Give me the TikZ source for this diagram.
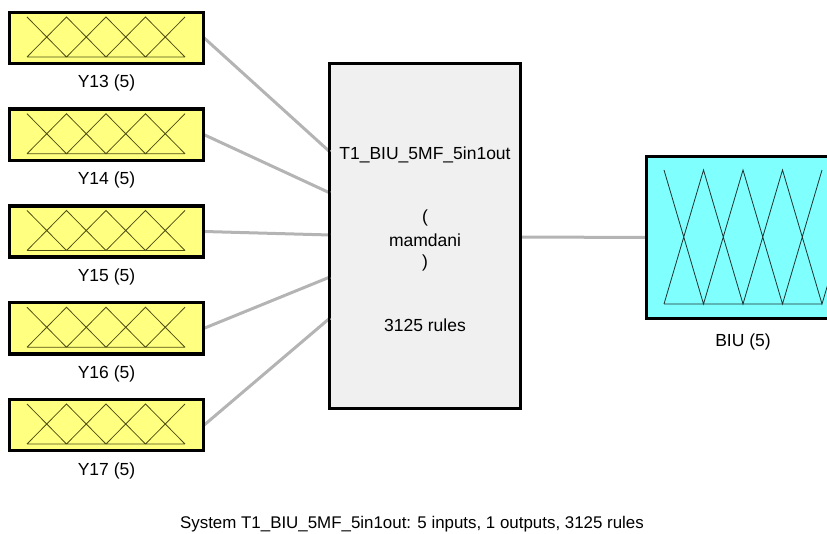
\documentclass[tikz,border=0pt]{standalone}
\usepackage{fontspec}
\setmainfont{Liberation Sans}
\definecolor{inyellow}{RGB}{255,255,128}
\definecolor{outcyan}{RGB}{128,255,255}
\definecolor{sysgray}{RGB}{240,240,240}
\definecolor{wiregray}{RGB}{180,180,180}
\definecolor{mfolive}{RGB}{80,80,20}
\definecolor{mfdark}{RGB}{30,50,50}
\tikzset{
  varbox/.style={draw=black, line width=2.4pt, rectangle, inner sep=0pt},
  inbox/.style={varbox, fill=inyellow, minimum width=193pt, minimum height=50pt},
  outbox/.style={varbox, fill=outcyan, minimum width=193pt, minimum height=161pt},
  sysbox/.style={draw=black, line width=2pt, fill=sysgray, rectangle, inner sep=0pt,
                 minimum width=190pt, minimum height=344pt},
  lbl/.style={font=\fontsize{17.5}{20}\selectfont, inner sep=0pt, anchor=base},
  caplbl/.style={lbl, font=\fontsize{16.9}{20}\selectfont},
  wire/.style={draw=wiregray, line width=3pt},
  mfline/.style={line width=0.8pt}
}
\begin{document}
\begin{tikzpicture}[x=1pt,y=-1pt]
\useasboundingbox (0,0) rectangle (827,534);

% inputs, their membership functions and names
\foreach \name/\k in {Y13/0,Y14/1,Y15/2,Y16/3,Y17/4}{
  \pgfmathsetmacro{\yc}{38+\k*96.75}
  \node[inbox] (\name) at (106.5,\yc) {};
  \draw[mfline, draw=mfolive]
    (27,\yc+19) -- (66.5,\yc-21) -- (106,\yc+19) -- (145.5,\yc-21) -- (185,\yc+19)
    (27,\yc-21) -- (66.5,\yc+19) -- (106,\yc-21) -- (145.5,\yc+19) -- (185,\yc-21)
    (27,\yc+19) -- (185,\yc+19);
  \node[lbl] (\name-l) at (106.5,\yc+50) {\name\ (5)};
}

% inference system
\node[sysbox] (sys) at (425,236) {};
\node[lbl] (sysname) at (425,160) {T1\_BIU\_5MF\_5in1out};
\node[lbl] (popen) at (425,223) {(};
\node[lbl] (stype) at (425,247) {mamdani};
\node[lbl] (pclose) at (425,268) {)};
\node[lbl] (nrules) at (425,332) {3125 rules};

% output
\node[outbox] (BIU) at (743.5,237.5) {};
\draw[mfline, draw=mfdark]
  (664,304) -- (703.5,170) -- (743,304) -- (782.5,170) -- (822,304) -- (841.5,238)
  (664,170) -- (703.5,304) -- (743,170) -- (782.5,304) -- (822,170)
  (664,304) -- (822,304);
\node[lbl] (BIU-l) at (743,347) {BIU (5)};

% input connectors
\coordinate (e1) at (330,152);
\coordinate (e2) at (330,193);
\coordinate (e3) at (330,235);
\coordinate (e4) at (330,277);
\coordinate (e5) at (330,318);
\draw[wire] (Y13.east) -- (e1);
\draw[wire] (Y14.east) -- (e2);
\draw[wire] (Y15.east) -- (e3);
\draw[wire] (Y16.east) -- (e4);
\draw[wire] (Y17.east) -- (e5);
\draw[wire] (sys.east |- 0,237) -- (BIU.west);

% redraw box borders over the wire ends
\draw[line width=2pt] (sys.north west) rectangle (sys.south east);
\draw[line width=2.4pt] (BIU.north west) rectangle (BIU.south east);
\foreach \name in {Y13,Y14,Y15,Y16,Y17}{
  \draw[line width=2.4pt] (\name.north west) rectangle (\name.south east);
}

\node[caplbl] (caption) at (412,528) {System T1\_BIU\_5MF\_5in1out: 5 inputs, 1 outputs, 3125 rules};
\end{tikzpicture}
\end{document}
